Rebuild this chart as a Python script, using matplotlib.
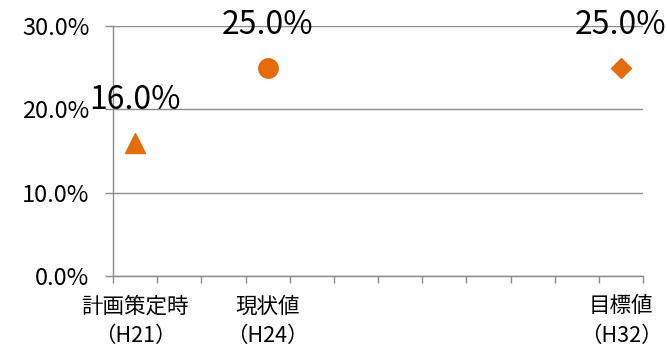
import matplotlib
matplotlib.use("Agg")
import matplotlib.pyplot as plt
from matplotlib.ticker import FuncFormatter, MultipleLocator

plt.rcParams['font.family'] = ['Noto Sans CJK JP', 'DejaVu Sans']

# fiscal years H21..H32, one slot each
years = ['H21', 'H22', 'H23', 'H24', 'H25', 'H26', 'H27', 'H28', 'H29', 'H30', 'H31', 'H32']
names = {'H21': '計画策定時', 'H24': '現状値', 'H32': '目標値'}

point_years = ['H21', 'H24', 'H32']
point_values = [16.0, 25.0, 25.0]
point_markers = ['^', 'o', 'D']

orange = '#E46C0A'
gray = '#8C8C8C'

fig = plt.figure(figsize=(6.67, 3.49), dpi=100)
ax = fig.add_axes([113 / 667, 73 / 349, 530 / 667, 250 / 349])

for yr, val, mk in zip(point_years, point_values, point_markers):
    x = years.index(yr) + 0.5
    ms = 14 if mk != 'D' else 10.5
    ax.plot([x], [val], marker=mk, color=orange, markersize=ms, linestyle='none')
    ax.annotate(f'{val:.1f}%', xy=(x, val), xytext=(0, 31), textcoords='offset points',
                ha='center', va='center', fontsize=23)

ax.set_xlim(0, len(years))
ax.set_ylim(0, 30)

# category boundaries as ticks, labels centred in each slot
ax.set_xticks(range(len(years) + 1))
ax.set_xticklabels([])
ax.set_xticks([i + 0.5 for i in range(len(years))], minor=True)
ax.set_xticklabels([f'{names[y]}\n（{y}）' if y in names else '' for y in years],
                   minor=True, fontsize=15.5, linespacing=1.45)
ax.tick_params(axis='x', which='major', length=5, color=gray, width=1)
ax.tick_params(axis='x', which='minor', length=0, pad=14)

ax.yaxis.set_major_locator(MultipleLocator(10))
ax.yaxis.set_major_formatter(FuncFormatter(lambda v, p: f'{v:.1f}%'))
ax.tick_params(axis='y', length=6, color=gray, width=1, labelsize=17, pad=11)
ax.grid(axis='y', color=gray, linewidth=1)
ax.set_axisbelow(True)

for side in ['top', 'right']:
    ax.spines[side].set_visible(False)
for side in ['left', 'bottom']:
    ax.spines[side].set_color(gray)
    ax.spines[side].set_linewidth(1)

fig.savefig('out.png', dpi=100)
